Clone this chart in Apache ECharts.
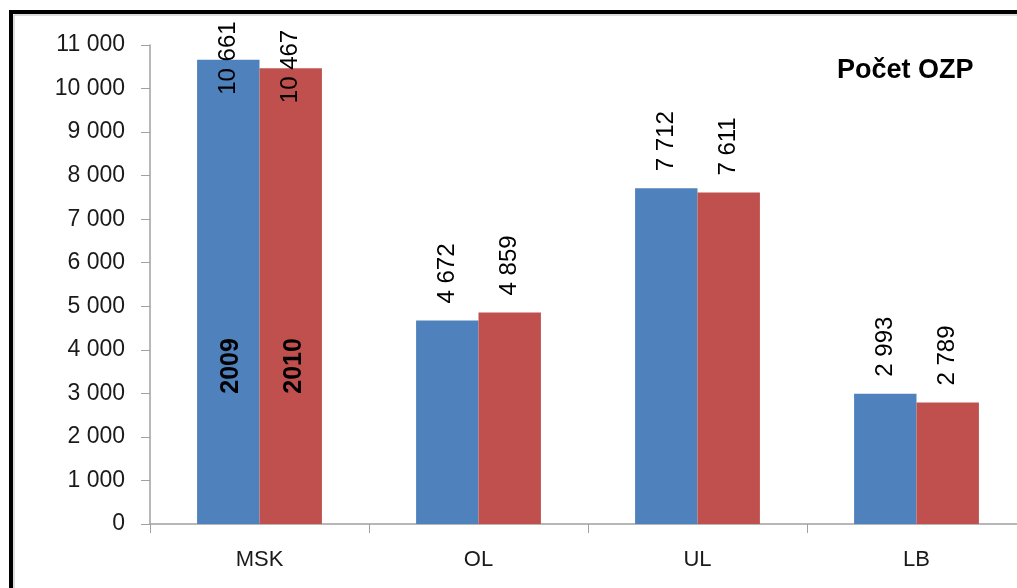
<!DOCTYPE html>
<html>
<head>
<meta charset="utf-8">
<script src="https://cdn.jsdelivr.net/npm/echarts@6/dist/echarts.min.js"></script>
<style>
  html, body { margin: 0; padding: 0; background: #fff; }
  #main { width: 1017px; height: 588px; }
</style>
</head>
<body>
<div id="main"></div>
<script>
// data
const regions = ['MSK', 'OL', 'UL', 'LB'];
const years = ['2009', '2010'];
const values2009 = [10661, 4672, 7712, 2993];
const values2010 = [10467, 4859, 7611, 2789];
const yearLabelAt = 3630;   // where the year names sit inside the MSK bars

const colors = ['#4F81BD', '#C0504D'];

function spaced(v) {
  return String(Math.round(v)).replace(/\B(?=(\d{3})+(?!\d))/g, ' ');
}

function barData(values) {
  // MSK labels are pushed down into the bar, like Excel did
  return values.map((v, i) => i === 0 ? { value: v, label: { distance: -35 } } : v);
}

function makeSeries(idx, values) {
  return {
    name: years[idx],
    type: 'bar',
    barGap: '0%',
    barCategoryGap: '43%',
    itemStyle: { color: colors[idx] },
    label: {
      show: true,
      position: 'top',
      rotate: 90,
      align: 'left',
      verticalAlign: 'middle',
      distance: 17,
      fontFamily: 'Liberation Sans',
      fontSize: 24,
      color: '#000',
      formatter: p => spaced(p.value)
    },
    markPoint: {
      symbol: 'rect',
      symbolSize: 0,
      data: [{ coord: [regions[0], yearLabelAt] }],
      label: {
        show: true,
        position: 'inside',
        rotate: 90,
        offset: [0, 3],
        formatter: '{a}',
        fontFamily: 'Liberation Sans',
        fontWeight: 'bold',
        fontSize: 25,
        color: '#000'
      }
    },
    data: barData(values)
  };
}

const chart = echarts.init(document.getElementById('main'), null, { renderer: 'canvas' });
chart.setOption({
  backgroundColor: '#fff',
  animation: false,
  title: {
    text: 'Počet OZP',
    left: 832,
    top: 52,
    textStyle: { fontFamily: 'Liberation Sans', fontWeight: 'bold', fontSize: 27, color: '#000' }
  },
  grid: { left: 150, top: 45, width: 876, height: 479, containLabel: false, outerBoundsMode: 'none' },
  xAxis: {
    type: 'category',
    data: regions,
    axisLine: { lineStyle: { color: '#a0a0a0', width: 1.5 } },
    axisTick: { show: true, length: 9, lineStyle: { color: '#a0a0a0' } },
    axisLabel: { margin: 25, fontFamily: 'Liberation Sans', fontSize: 22, color: '#1a1a1a' }
  },
  yAxis: {
    type: 'value',
    min: 0,
    max: 11000,
    interval: 1000,
    splitLine: { show: false },
    axisLine: { show: true, lineStyle: { color: '#a0a0a0', width: 1.5 } },
    axisTick: { show: true, length: 9, lineStyle: { color: '#a0a0a0' } },
    axisLabel: {
      margin: 25,
      fontFamily: 'Liberation Sans',
      fontSize: 23,
      color: '#1a1a1a',
      formatter: v => spaced(v)
    }
  },
  graphic: [
    { type: 'line', shape: { x1: 9, y1: 12, x2: 1017, y2: 12 }, style: { stroke: '#000', lineWidth: 4 } },
    { type: 'line', shape: { x1: 11, y1: 10, x2: 11, y2: 588 }, style: { stroke: '#000', lineWidth: 4 } },
    { type: 'line', shape: { x1: 14, y1: 15, x2: 1017, y2: 15 }, style: { stroke: '#bbb', lineWidth: 1 } },
    { type: 'line', shape: { x1: 14, y1: 15, x2: 14, y2: 588 }, style: { stroke: '#bbb', lineWidth: 1 } }
  ],
  series: [makeSeries(0, values2009), makeSeries(1, values2010)]
});
</script>
</body>
</html>
